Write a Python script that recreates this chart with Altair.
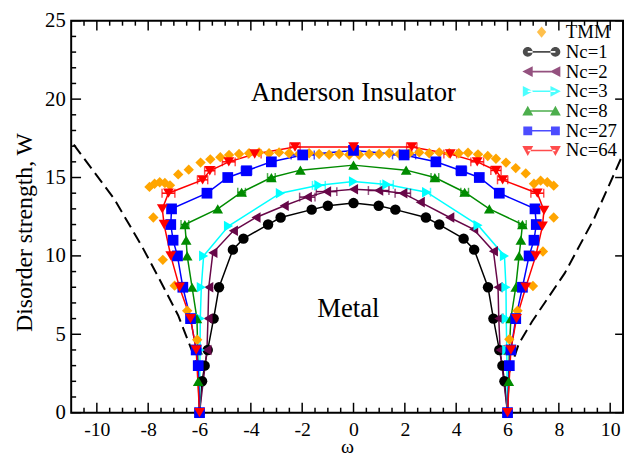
import altair as alt
import pandas as pd

# ---------------- data ----------------
series_names = ["TMM", "Nc=1", "Nc=2", "Nc=3", "Nc=8", "Nc=27", "Nc=64"]
series_colors = ["#FFA500", "#000000", "#670748", "#00FFFF", "#008B00", "#0000FF", "#FF0000"]
series_shapes = ["diamond", "circle", "triangle-left", "triangle-right", "triangle-up", "square", "triangle-down"]
marker_sizes = [110, 120, 140, 140, 140, 100, 140]

tmm_omega = [-6.0, -6.09, -6.48, -6.97, -7.43, -7.8,
             -7.95, -7.75, -7.55, -7.35, -7.15,
             -6.83, -6.42, -5.96, -5.58, -5.19, -4.85, -4.46,
             -4.07, -3.68, -3.29, -2.9, -2.51, -2.12, -1.73, -1.34, -0.95, -0.56, -0.17,
             0.22, 0.61, 1.0, 1.39, 1.78, 2.17, 2.56, 2.95, 3.34, 3.73, 4.1,
             4.46, 4.85, 5.23, 5.55, 5.94, 6.32, 6.71,
             7.03, 7.29, 7.55, 7.8,
             7.8, 7.38, 6.99, 6.39, 6.07, 6.0]
tmm_W = [0.0, 4.65, 6.5, 8.1, 9.75, 12.45,
         14.4, 14.6, 14.7, 14.65, 14.5,
         15.2, 15.5, 15.95, 16.16, 16.3, 16.44, 16.5,
         16.55, 16.6, 16.55, 16.6, 16.55, 16.5, 16.55, 16.5, 16.45, 16.5, 16.45,
         16.45, 16.5, 16.5, 16.55, 16.5, 16.55, 16.6, 16.55, 16.6, 16.55, 16.55,
         16.58, 16.48, 16.37, 16.2, 15.95, 15.6, 15.26,
         14.6, 14.8, 14.7, 14.48,
         12.45, 10.28, 8.08, 6.5, 4.68, 0.0]

nc1_omega = [-6.0, -5.9, -5.8, -5.68, -5.45, -5.24, -4.7, -4.29, -3.33, -2.84, -1.63, -1.0, 0.0,
             0.98, 1.63, 2.82, 3.34, 4.29, 4.7, 5.24, 5.45, 5.68, 5.8, 5.88, 6.0]
nc1_W = [0.0, 2.0, 3.0, 4.0, 6.0, 8.0, 10.4, 11.1, 12.0, 12.45, 12.95, 13.2, 13.37,
         13.2, 12.95, 12.45, 12.0, 11.1, 10.4, 8.0, 6.0, 4.0, 3.0, 2.0, 0.0]

nc2_omega = [-6.0, -5.71, -5.67, -5.64, -5.48, -4.68, -3.8, -2.7, -1.8, -1.05, 0.0,
             0.98, 1.92, 2.6, 3.75, 4.68, 5.45, 5.63, 5.66, 5.71, 6.0]
nc2_W = [0.0, 4.0, 6.0, 8.0, 10.2, 11.6, 12.45, 13.2, 13.75, 14.1, 14.25,
         14.17, 14.0, 13.43, 12.45, 11.7, 10.3, 8.0, 6.0, 4.0, 0.0]

nc3_omega = [-6.0, -5.98, -5.97, -5.93, -5.84, -4.87, -2.85, -1.35, 0.0,
             1.3, 2.85, 4.85, 5.88, 5.94, 5.95, 5.97, 6.0]
nc3_W = [0.0, 4.0, 6.0, 8.0, 10.0, 11.9, 14.0, 14.5, 14.75,
         14.55, 14.06, 11.96, 10.0, 8.0, 6.0, 4.0, 0.0]

nc8_omega = [-6.0, -6.05, -6.07, -6.1, -6.29, -6.48, -6.52, -6.57, -5.29, -4.36, -3.2, -2.07, 0.0,
             2.05, 3.17, 4.33, 5.29, 6.58, 6.52, 6.45, 6.32, 6.13, 6.07, 6.05, 6.0]
nc8_W = [0.0, 2.0, 4.0, 6.0, 8.0, 10.0, 11.0, 12.0, 13.0, 14.06, 15.0, 15.47, 15.79,
         15.47, 15.0, 14.06, 13.0, 12.0, 11.0, 10.0, 8.0, 6.0, 4.0, 2.0, 0.0]

nc27_omega = [-6.0, -6.05, -6.13, -6.35, -6.65, -6.86, -7.03, -7.12, -7.09, -5.71, -4.9, -4.17, -3.2, -1.98, 0.0,
              1.97, 3.21, 4.2, 4.9, 5.68, 7.07, 7.12, 7.03, 6.84, 6.58, 6.32, 6.13, 6.07, 6.0]
nc27_W = [0.0, 3.0, 4.0, 6.0, 8.0, 10.0, 11.0, 12.0, 13.0, 14.0, 15.0, 15.43, 16.0, 16.44, 16.73,
          16.44, 16.0, 15.43, 15.0, 14.0, 13.0, 12.0, 11.0, 10.0, 8.0, 6.0, 4.0, 3.0, 0.0]

nc64_omega = [-6.0, -6.13, -6.35, -6.78, -7.12, -7.38, -7.45, -7.21, -5.88, -5.6, -4.86, -3.85, -2.28, 0.0,
              2.27, 3.77, 4.82, 5.55, 5.81, 7.16, 7.42, 7.36, 7.1, 6.71, 6.35, 6.13, 6.0]
nc64_W = [0.0, 4.0, 6.0, 8.0, 10.0, 12.0, 13.0, 14.0, 14.85, 15.43, 16.0, 16.5, 16.95, 16.95,
          16.95, 16.5, 16.0, 15.45, 14.85, 14.0, 12.9, 11.9, 10.0, 8.0, 6.0, 4.0, 0.0]

# horizontal error bars: series, centre omega, W, half-width in omega
err_series = ["Nc=64"] * 12 + ["Nc=27"] * 4 + ["Nc=8"] * 6 + ["Nc=3"] * 3 + ["Nc=2"] * 4
err_omega = [-7.21, -5.88, -5.6, -4.86, -3.85, -2.28, 2.27, 3.77, 4.82, 5.55, 5.81, 7.16,
             -1.98, 1.97, -4.17, 4.2,
             -6.57, -4.36, -3.2, 3.17, 4.33, 6.58,
             -1.35, 1.3, 2.85,
             -1.8, -1.05, 0.98, 1.92]
err_W = [14.0, 14.85, 15.43, 16.0, 16.5, 16.95, 16.95, 16.5, 16.0, 15.45, 14.85, 14.0,
         16.44, 16.44, 15.43, 15.43,
         12.0, 14.06, 15.0, 15.0, 14.06, 12.0,
         14.5, 14.55, 14.06,
         13.75, 14.1, 14.17, 14.0]
err_half = [0.25, 0.2, 0.2, 0.25, 0.25, 0.2, 0.2, 0.25, 0.25, 0.2, 0.2, 0.25,
            0.45, 0.45, 0.2, 0.2,
            0.15, 0.15, 0.15, 0.15, 0.15, 0.15,
            0.25, 0.25, 0.15,
            0.3, 0.4, 0.4, 0.3]

# dashed boundaries (left and right)
edge_left_omega = [-10.9, -9.33, -8.24, -7.54, -6.83, -6.07, -6.02]
edge_left_W = [17.1, 13.65, 10.6, 8.45, 6.2, 3.0, 2.5]
edge_right_omega = [6.05, 6.44, 6.95, 8.23, 9.38, 10.5]
edge_right_W = [2.5, 4.4, 5.8, 8.9, 12.4, 16.5]

annot_labels = ["Anderson Insulator", "Metal"]
annot_omega = [0.0, -0.2]
annot_W = [20.4, 6.6]

x_major_ticks = [-10, -8, -6, -4, -2, 0, 2, 4, 6, 8, 10]
x_minor_ticks = [v / 2 for v in range(-21, 21) if v % 4 != 0]
y_major_ticks = [0, 5, 10, 15, 20, 25]
y_minor_ticks = [v for v in range(1, 25) if v % 5 != 0]

# ---------------- tables ----------------
all_series = {
    "TMM": (tmm_omega, tmm_W), "Nc=1": (nc1_omega, nc1_W), "Nc=2": (nc2_omega, nc2_W),
    "Nc=3": (nc3_omega, nc3_W), "Nc=8": (nc8_omega, nc8_W), "Nc=27": (nc27_omega, nc27_W),
    "Nc=64": (nc64_omega, nc64_W),
}
rows = []
for name in series_names:
    om, ww = all_series[name]
    for i, (a, b) in enumerate(zip(om, ww)):
        rows.append({"series": name, "omega": a, "W": b, "idx": i})
df = pd.DataFrame(rows)
df_lines = df[df.series != "TMM"]

df_err = pd.DataFrame({
    "series": err_series,
    "omega": [c - h for c, h in zip(err_omega, err_half)],
    "omega_hi": [c + h for c, h in zip(err_omega, err_half)],
    "W": err_W,
})

dash_rows = []
for side, om, ww in (("left", edge_left_omega, edge_left_W), ("right", edge_right_omega, edge_right_W)):
    for i, (a, b) in enumerate(zip(om, ww)):
        dash_rows.append({"side": side, "omega": a, "W": b, "idx": i})
df_dash = pd.DataFrame(dash_rows)
df_annot = pd.DataFrame({"label": annot_labels, "omega": annot_omega, "W": annot_W})

# ---------------- legend symbols (line + markers) ----------------
def marker_path(kind, c):
    if kind == "circle":
        return f"M{c-1},0A1,1,0,1,0,{c+1},0A1,1,0,1,0,{c-1},0Z"
    if kind == "square":
        return f"M{c-0.9},-0.9H{c+0.9}V0.9H{c-0.9}Z"
    if kind == "triangle-left":
        return f"M{c-1.1},0L{c+1.0},-1.1L{c+1.0},1.1Z"
    if kind == "triangle-right":
        return f"M{c+1.1},0L{c-1.0},-1.1L{c-1.0},1.1Z"
    if kind == "triangle-up":
        return f"M{c},-1.1L{c+1.1},0.9L{c-1.1},0.9Z"
    if kind == "triangle-down":
        return f"M{c},1.1L{c+1.1},-0.9L{c-1.1},-0.9Z"
    return f"M{c},-1.15L{c+0.95},0L{c},1.15L{c-0.95},0Z"

XL, XR = -4.6, 1.0
legend_paths = []
for name, kind in zip(series_names, series_shapes):
    parts = ["M-5.8,-1.3", "M2.2,1.3"]
    if name == "TMM":
        parts.append(marker_path(kind, (XL + XR) / 2))
    else:
        parts.append(f"M{XL},-0.16H{XR}V0.16H{XL}Z")
        parts.append(marker_path(kind, XL))
        parts.append(marker_path(kind, XR))
    legend_paths.append(" ".join(parts))

# ---------------- chart ----------------
W_PLOT, H_PLOT = 559, 397
FONT = "Liberation Serif"

xscale = alt.Scale(domain=[-11, 10.5], nice=False, zero=False)
yscale = alt.Scale(domain=[0, 25], nice=False, zero=False)
color_scale = alt.Scale(domain=series_names, range=series_colors)

x_axis = alt.Axis(values=x_major_ticks, title="ω", labelExpr="'' + datum.value",
                  labelPadding=7, labelFontSize=20, titleFontSize=20, titleY=40,
                  titleBaseline="alphabetic")
y_axis = alt.Axis(values=y_major_ticks, title="Disorder strength, W",
                  labelPadding=6, titlePadding=8, titleFontSize=24, titleY=214)
x_enc = alt.X("omega:Q", scale=xscale, axis=x_axis)
y_enc = alt.Y("W:Q", scale=yscale, axis=y_axis)

dashed = alt.Chart(df_dash).mark_line(color="black", strokeWidth=2, strokeDash=[12, 6]).encode(
    x=x_enc, y=y_enc, detail="side:N", order="idx:Q")

lines = alt.Chart(df_lines).mark_line(strokeWidth=1.5).encode(
    x=x_enc, y=y_enc,
    color=alt.Color("series:N", scale=color_scale, legend=None),
    detail="series:N", order="idx:Q")

errbars = alt.Chart(df_err).mark_errorbar(ticks=alt.TickConfig(size=9, thickness=1.5), thickness=1.5).encode(
    x=alt.X("omega:Q", scale=xscale, axis=x_axis, title="ω"), x2="omega_hi:Q",
    y=y_enc,
    color=alt.Color("series:N", scale=color_scale, legend=None))

points = alt.Chart(df).mark_point(filled=True, opacity=1, strokeWidth=0).encode(
    x=x_enc, y=y_enc,
    color=alt.Color("series:N", scale=color_scale, legend=None),
    shape=alt.Shape("series:N", scale=alt.Scale(domain=series_names, range=series_shapes), legend=None),
    size=alt.Size("series:N", scale=alt.Scale(domain=series_names, range=marker_sizes), legend=None))

legend = alt.Legend(title=None, orient="none", legendX=476, legendY=2, symbolSize=100,
                    symbolStrokeWidth=0, labelFont=FONT, labelFontSize=19, labelColor="black",
                    labelOffset=6, rowPadding=0, padding=0, symbolOffset=0)
# legend carrier: draws no marks (empty after filter), only provides the legend
carrier = alt.Chart(df).transform_filter("datum.idx < 0").mark_point(filled=True).encode(
    x=x_enc, y=y_enc,
    color=alt.Color("series:N", scale=color_scale, legend=legend),
    shape=alt.Shape("series:N", scale=alt.Scale(domain=series_names, range=legend_paths), legend=legend))

annots = alt.Chart(df_annot).mark_text(font=FONT, fontSize=27, color="black").encode(
    x=x_enc, y=y_enc, text="label:N")

df_xmaj = pd.DataFrame({"omega": x_major_ticks})
df_xmin = pd.DataFrame({"omega": x_minor_ticks})
df_ymaj = pd.DataFrame({"W": y_major_ticks})
df_ymin = pd.DataFrame({"W": y_minor_ticks})
tick_style = dict(color="black", strokeWidth=1.5)
ticks = [
    alt.Chart(df_xmaj).mark_rule(**tick_style).encode(x=x_enc, y=alt.value(H_PLOT), y2=alt.value(H_PLOT - 10)),
    alt.Chart(df_xmin).mark_rule(**tick_style).encode(x=x_enc, y=alt.value(H_PLOT), y2=alt.value(H_PLOT - 5)),
    alt.Chart(df_xmaj).mark_rule(**tick_style).encode(x=x_enc, y=alt.value(0), y2=alt.value(10)),
    alt.Chart(df_xmin).mark_rule(**tick_style).encode(x=x_enc, y=alt.value(0), y2=alt.value(5)),
    alt.Chart(df_ymaj).mark_rule(**tick_style).encode(y=y_enc, x=alt.value(0), x2=alt.value(10)),
    alt.Chart(df_ymin).mark_rule(**tick_style).encode(y=y_enc, x=alt.value(0), x2=alt.value(5)),
    alt.Chart(df_ymaj).mark_rule(**tick_style).encode(y=y_enc, x=alt.value(W_PLOT), x2=alt.value(W_PLOT - 8)),
]

chart = alt.layer(dashed, *ticks, lines, errbars, points, carrier, annots).resolve_scale(
    color="independent", shape="independent", size="independent"
).properties(
    width=W_PLOT, height=H_PLOT,
    autosize=alt.AutoSizeParams(type="none"),
    padding={"left": 64, "top": 10, "right": 2, "bottom": 42},
).configure_view(stroke="black", strokeWidth=2).configure_axis(
    labelFont=FONT, titleFont=FONT, labelFontSize=21, labelColor="black", titleColor="black",
    titleFontWeight="normal", grid=False, ticks=False, domain=False,
)

chart.save("out.html", embed_options={"renderer": "svg", "actions": False})
